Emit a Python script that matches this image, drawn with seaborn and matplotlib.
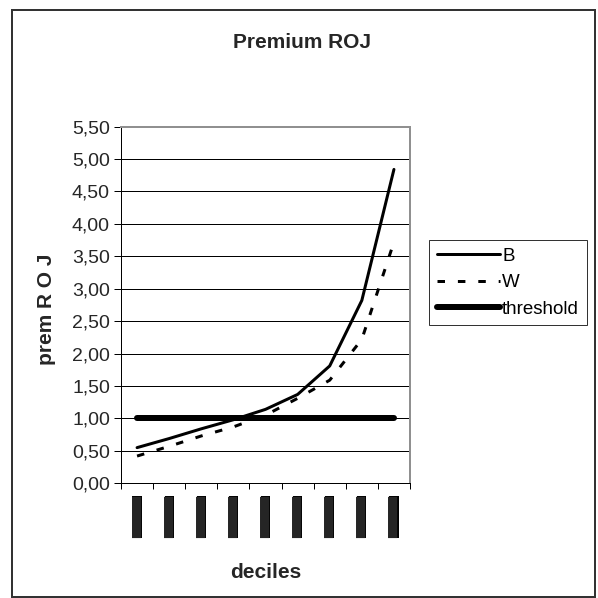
import pandas as pd
import seaborn as sns
import matplotlib.pyplot as plt
from matplotlib.ticker import FuncFormatter, FixedLocator
from matplotlib.patches import Rectangle

# data
deciles = ['1', '2', '3', '4', '5', '6', '7', '8', '9']
B = [0.55, 0.69, 0.84, 0.98, 1.14, 1.37, 1.81, 2.82, 4.84]
W = [0.42, 0.57, 0.73, 0.87, 1.05, 1.31, 1.59, 2.22, 3.72]
threshold = [1.0] * 9

sns.set_theme(style="white")
plt.rcParams['font.family'] = ['Liberation Sans', 'DejaVu Sans']
bold_font = ['Liberation Sans Narrow', 'Liberation Sans', 'DejaVu Sans']

fig = plt.figure(figsize=(5.98, 5.98), dpi=100)
ax = fig.add_axes([121 / 598, 1 - 483.3 / 598, 289 / 598, 356.7 / 598])

px = 0.72  # one pixel in points
sns.lineplot(x=deciles, y=B, ax=ax, color='black', linewidth=3 * px, label='B')
sns.lineplot(x=deciles, y=W, ax=ax, color='black', linewidth=3 * px, label='W',
             dashes=False)
ax.lines[-1].set_dashes((2.5, 4.3))
sns.lineplot(x=deciles, y=threshold, ax=ax, color='black', linewidth=6 * px,
             label='threshold')
for ln in ax.lines:
    ln.set_solid_capstyle('round')

ax.set_xlim(-0.5, 8.5)
ax.set_ylim(0, 5.5)
ax.set_yticks([i * 0.5 for i in range(12)])
ax.yaxis.set_major_formatter(FuncFormatter(lambda v, p: f"{v:.2f}".replace('.', ',')))
ax.yaxis.grid(True, color='black', linewidth=1 * px)
ax.set_axisbelow(True)

# x: minor ticks at category borders, labels show up as black blocks
ax.xaxis.set_minor_locator(FixedLocator([i - 0.5 for i in range(10)]))
ax.set_xticks(range(9))
ax.set_xticklabels(['██████'] * 9, rotation=90, fontsize=6.6, family='DejaVu Sans')
for lbl in ax.get_xticklabels():
    lbl.set_bbox(dict(boxstyle='square,pad=0', facecolor='black', edgecolor='none'))
ax.tick_params(axis='x', which='major', length=0, pad=9)
ax.tick_params(axis='x', which='minor', length=4, width=1 * px, color='black',
               direction='out', bottom=True)
ax.tick_params(axis='y', length=5, width=1 * px, color='black', direction='out',
               left=True, labelsize=14, pad=3)

for side in ['left', 'bottom']:
    ax.spines[side].set_color('black')
    ax.spines[side].set_linewidth(1 * px)
for side in ['top', 'right']:
    ax.spines[side].set_color('#909090')
    ax.spines[side].set_linewidth(2 * px)

ax.set_xlabel('')
ax.set_ylabel('')
fig.text(266 / 598, 1 - 572 / 598, 'deciles', ha='center', va='center',
         fontsize=15, fontweight='bold', family=bold_font)
fig.text(47 / 598, 1 - 309 / 598, 'prem R O J', ha='center', va='center',
         rotation=90, fontsize=15, fontweight='bold', family=bold_font)
fig.text(302 / 598, 1 - 42 / 598, 'Premium ROJ', ha='center', va='center',
         fontsize=15, fontweight='bold', family=bold_font)

leg = ax.legend(loc='upper left', bbox_to_anchor=(429 / 598, 1 - 240 / 598),
                bbox_transform=fig.transFigure, fontsize=13.5, frameon=True,
                fancybox=False, edgecolor='black', handlelength=3.4,
                handletextpad=0.1, labelspacing=0.5, borderpad=0.4,
                borderaxespad=0)
leg.get_frame().set_linewidth(1 * px)
for t in leg.get_texts():
    t.set_color('black')

# outer chart border
fig.patches.append(Rectangle((12 / 598, 1 / 598), 583 / 598, 587 / 598,
                             transform=fig.transFigure, fill=False,
                             edgecolor='#333333', linewidth=2 * px))

plt.savefig('out.png', dpi=100)
